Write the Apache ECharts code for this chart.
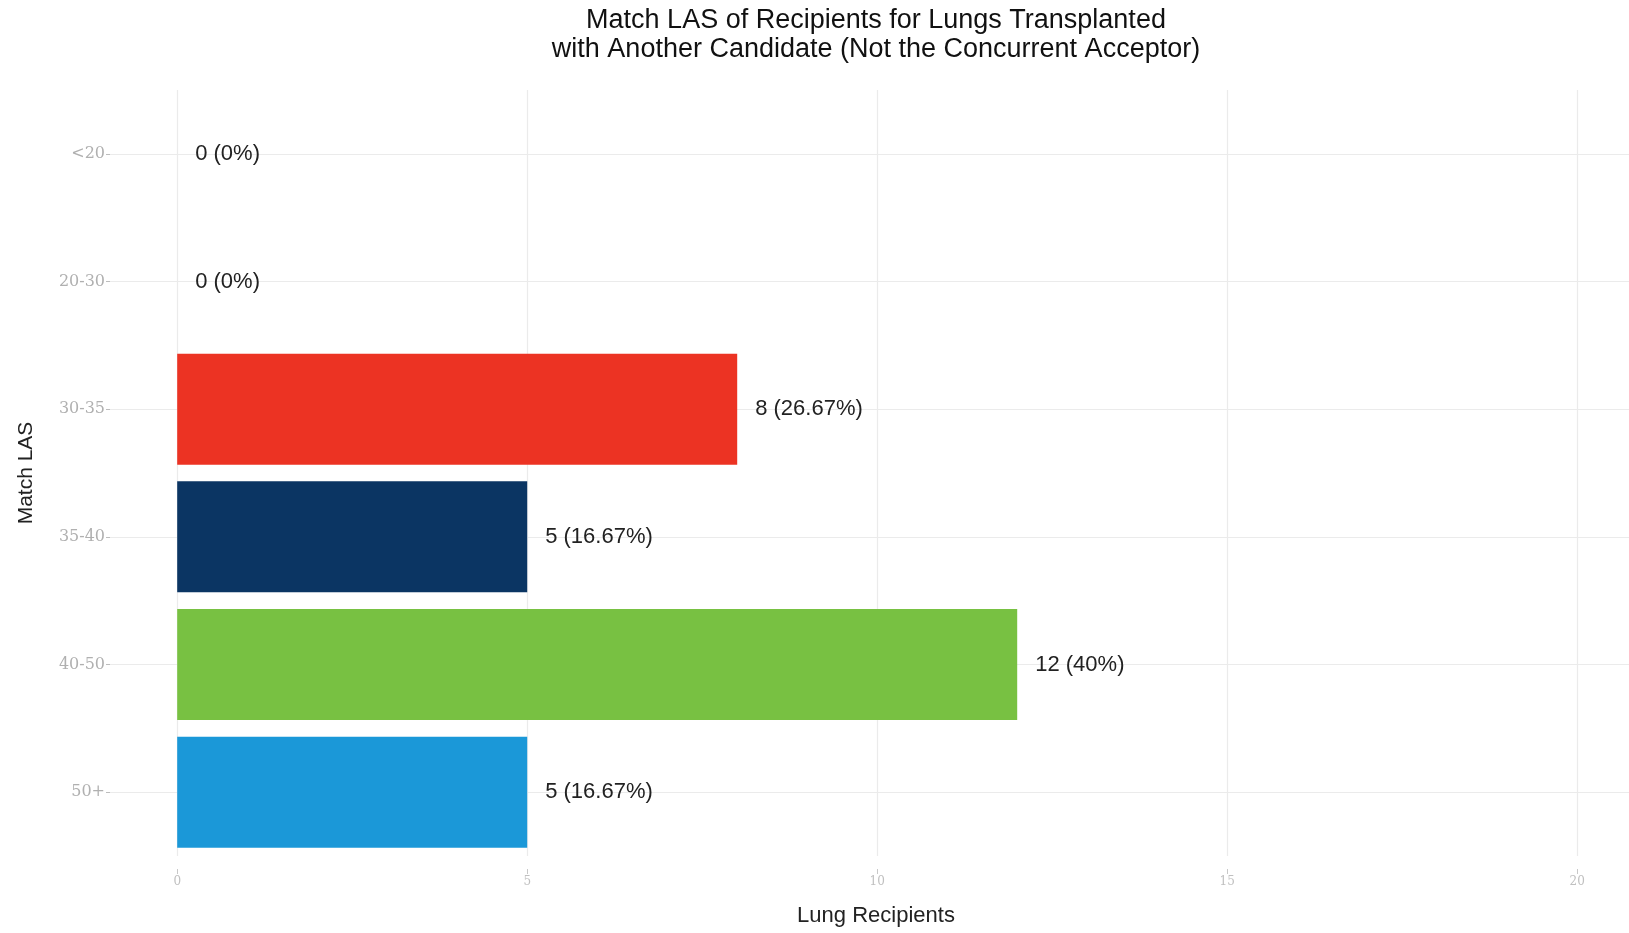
<!DOCTYPE html>
<html>
<head>
<meta charset="utf-8">
<script src="https://cdn.jsdelivr.net/npm/echarts@6/dist/echarts.min.js"></script>
<style>html,body{margin:0;padding:0;background:#fff}#c{width:1629px;height:933px}</style>
</head>
<body>
<div id="c"></div>
<script>
const categories = ['<20', '20-30', '30-35', '35-40', '40-50', '50+'];
const recipients = [0, 0, 8, 5, 12, 5];
const barColors = ['#ec3323', '#ec3323', '#ec3323', '#0b3563', '#78c142', '#1b98d8'];
const xTicks = [0, 5, 10, 15, 20];
const titleLines = ['Match LAS of Recipients for Lungs Transplanted', 'with Another Candidate (Not the Concurrent Acceptor)'];

const total = recipients.reduce((a, b) => a + b, 0);
function pctLabel(v) {
  const p = Math.round(v / total * 10000) / 100;
  return v + ' (' + p + '%)';
}

const chart = echarts.init(document.getElementById('c'), null, {renderer: 'canvas'});
const font = 'Liberation Sans, Arial, Helvetica, sans-serif';
chart.setOption({
  animation: false,
  backgroundColor: '#ffffff',
  grid: {left: 110, right: 0, top: 90, bottom: 77, containLabel: false},
  xAxis: {
    type: 'value', min: -0.96, max: 20.74,
    axisLine: {show: false, onZero: false},
    splitLine: {show: false},
    offset: 13,
    axisTick: {show: true, length: 5, customValues: xTicks, lineStyle: {color: '#c8c8c8'}},
    axisLabel: {customValues: xTicks, color: '#c0c0c0', fontSize: 12, fontFamily: 'DejaVu Serif, serif', margin: 7}
  },
  yAxis: {
    type: 'category', data: categories, inverse: true,
    axisLine: {show: false, onZero: false},
    axisTick: {show: true, alignWithLabel: true, length: 4, lineStyle: {color: '#bdbdbd'}},
    axisLabel: {color: '#b0b0b0', fontSize: 16, fontFamily: 'DejaVu Serif, serif', margin: 5},
    splitLine: {show: false},
    name: 'Match LAS', nameLocation: 'middle', nameRotate: 90, nameGap: 73,
    nameTextStyle: {color: '#222', fontSize: 21, fontFamily: font}
  },
  series: [
    {
      type: 'line', data: [], z: 1, silent: true,
      markLine: {
        silent: true, symbol: 'none', label: {show: false}, z: 0,
        lineStyle: {color: '#ebebeb', type: 'solid', width: 1.2},
        data: categories.map(c => ({yAxis: c})).concat(xTicks.map(v => ({xAxis: v})))
      }
    },
    {
      type: 'bar', z: 3,
      barCategoryGap: '13%',
      data: recipients.map((v, i) => ({value: v, itemStyle: {color: barColors[i]}})),
      label: {
        show: true, position: 'right', distance: 18,
        formatter: p => pctLabel(p.value),
        color: '#222', fontSize: 22, fontFamily: font
      }
    }
  ],
  graphic: [
    {type: 'text', x: 876, y: 21, style: {text: titleLines[0], textAlign: 'center', textVerticalAlign: 'middle', fontSize: 27, fontFamily: font, fill: '#111'}},
    {type: 'text', x: 876, y: 50, style: {text: titleLines[1], textAlign: 'center', textVerticalAlign: 'middle', fontSize: 27, fontFamily: font, fill: '#111'}},
    {type: 'text', x: 876, y: 916, style: {text: 'Lung Recipients', textAlign: 'center', textVerticalAlign: 'middle', fontSize: 22, fontFamily: font, fill: '#222'}}
  ]
});
</script>
</body>
</html>
